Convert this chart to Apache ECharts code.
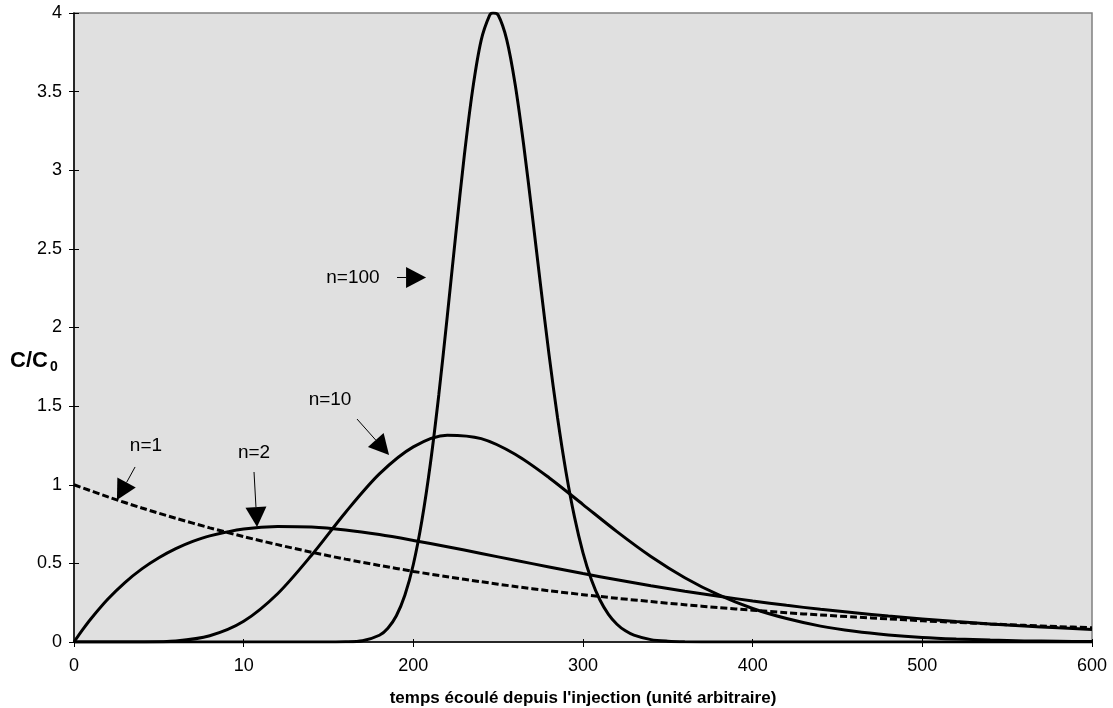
<!DOCTYPE html>
<html>
<head>
<meta charset="utf-8">
<script src="https://cdn.jsdelivr.net/npm/echarts@6/dist/echarts.min.js"></script>
<style>
html,body{margin:0;padding:0;background:#fff;}
#c{width:1113px;height:708px;}
</style>
</head>
<body>
<div id="c"></div>
<script>
// ---- data ----
const xTickLabels = ['0', '10', '200', '300', '400', '500', '600'];
const yTickLabels = ['0', '0.5', '1', '1.5', '2', '2.5', '3', '3.5', '4'];

const tN1 = [0,20,40,60,80,100,120,140,160,180,200,220,240,260,280,300,320,340,360,380,400,420,440,460,480,500,520,540,560,580,600];
const vN1 = [1,0.923,0.852,0.787,0.726,0.670,0.619,0.571,0.527,0.487,0.449,0.415,0.383,0.353,0.326,0.301,0.278,0.257,0.237,0.219,0.202,0.186,0.172,0.159,0.147,0.135,0.125,0.115,0.106,0.098,0.091];

const tN2 = [0,5,10,20,30,40,50,60,70,80,100,120,140,160,180,200,220,240,260,280,300,320,340,360,380,400,420,440,460,480,500,520,540,560,580,600];
const vN2 = [0,0.077,0.148,0.273,0.378,0.465,0.536,0.594,0.640,0.675,0.719,0.735,0.731,0.712,0.683,0.646,0.606,0.563,0.520,0.477,0.435,0.396,0.358,0.323,0.291,0.261,0.233,0.208,0.186,0.165,0.147,0.130,0.115,0.102,0.090,0.079];

const tN10 = [0,20,40,60,80,100,120,140,160,180,200,220,240,260,280,300,320,340,360,380,400,420,440,460,480,500,520,540,560,580,600];
const vN10 = [0,0,0.0004,0.0066,0.040,0.132,0.307,0.552,0.824,1.069,1.241,1.315,1.293,1.194,1.045,0.874,0.702,0.544,0.409,0.299,0.213,0.149,0.101,0.068,0.045,0.029,0.019,0.012,0.007,0.0045,0.0027];

const tN100 = [0,140,150,160,170,180,185,190,195,200,205,210,215,220,225,230,235,240,245,247,250,255,260,265,270,275,280,285,290,295,300,305,310,315,320,325,330,340,350,360,380,600];
const vN100 = [0,0,0.0001,0.0011,0.0082,0.043,0.088,0.167,0.297,0.493,0.769,1.130,1.571,2.071,2.591,3.090,3.516,3.827,3.986,4.0,3.987,3.832,3.547,3.164,2.724,2.268,1.826,1.426,1.080,0.794,0.567,0.394,0.267,0.176,0.113,0.071,0.044,0.015,0.005,0.0015,0,0];

// annotations (data coordinates)
const annLabels = ['n=1', 'n=2', 'n=10', 'n=100'];
const annTextPos = [[42.4, 1.246], [106.1, 1.202], [150.9, 1.539], [164.4, 2.318]];
const annArrowFrom = [[36.0, 1.113], [106.1, 1.081], [166.8, 1.418], [190.4, 2.318]];
const annArrowTo = [[25.3, 0.903], [107.9, 0.731], [185.7, 1.189], [207.5, 2.318]];

const xTitle = "temps écoulé depuis l'injection (unité arbitraire)";
// --------------------------------------

const FONT = 'Arial, "Liberation Sans", Helvetica, sans-serif';
const zip = (t, v) => t.map((x, i) => [x, v[i]]);

const chart = echarts.init(document.getElementById('c'), null, {renderer: 'canvas'});

function lineSeries(name, t, v, dashed) {
  return {
    name: name,
    type: 'line',
    data: zip(t, v),
    showSymbol: false,
    symbol: 'none',
    smooth: 0.3,
    clip: true,
    lineStyle: {color: '#000', width: 3, type: dashed ? [7, 3] : 'solid'},
    itemStyle: {color: '#000'},
    emphasis: {disabled: true},
    z: 3
  };
}

const option = {
  animation: false,
  backgroundColor: '#ffffff',
  textStyle: {fontFamily: FONT},
  grid: {
    left: 74, right: 21, top: 13, bottom: 66,
    containLabel: false,
    outerBoundsMode: 'none',
    show: true,
    backgroundColor: '#e0e0e0',
    borderColor: '#808080',
    borderWidth: 1.5
  },
  xAxis: [{
    type: 'value', min: 0, max: 600, interval: 100,
    position: 'bottom',
    name: xTitle, nameLocation: 'middle', nameGap: 48,
    nameTextStyle: {fontFamily: FONT, fontSize: 17, fontWeight: 'bold', color: '#000'},
    axisLine: {show: true, onZero: false, lineStyle: {color: '#000', width: 1.5}},
    axisTick: {show: true, inside: false, length: 5, lineStyle: {color: '#000', width: 1}},
    axisLabel: {
      show: true, margin: 15, color: '#000', fontFamily: FONT, fontSize: 18,
      formatter: function (v) { return xTickLabels[Math.round(v / 100)]; }
    },
    splitLine: {show: false}
  }, {
    type: 'value', min: 0, max: 600, interval: 100,
    position: 'bottom', offset: 0,
    axisLine: {show: false},
    axisTick: {show: true, inside: true, length: 3, lineStyle: {color: '#000', width: 1}},
    axisLabel: {show: false},
    splitLine: {show: false}
  }],
  yAxis: [{
    type: 'value', min: 0, max: 4, interval: 0.5,
    position: 'left',
    axisLine: {show: true, onZero: false, lineStyle: {color: '#000', width: 1.5}},
    axisTick: {show: true, inside: false, length: 5, lineStyle: {color: '#000', width: 1}},
    axisLabel: {
      show: true, margin: 12, color: '#000', fontFamily: FONT, fontSize: 18,
      formatter: function (v) { return yTickLabels[Math.round(v / 0.5)]; }
    },
    splitLine: {show: false}
  }, {
    type: 'value', min: 0, max: 4, interval: 0.5,
    position: 'left', offset: 0,
    axisLine: {show: false},
    axisTick: {show: true, inside: true, length: 5, lineStyle: {color: '#000', width: 1}},
    axisLabel: {show: false},
    splitLine: {show: false}
  }],
  series: [
    lineSeries('n=1', tN1, vN1, true),
    lineSeries('n=2', tN2, vN2, false),
    lineSeries('n=10', tN10, vN10, false),
    lineSeries('n=100', tN100, vN100, false)
  ]
};

chart.setOption(option);

// build annotations (labels + arrows) from data coordinates
const graphics = [];
const HEAD_LEN = 20, HEAD_HALF = 10.5;
for (let i = 0; i < annLabels.length; i++) {
  const tp = chart.convertToPixel({xAxisIndex: 0, yAxisIndex: 0}, annTextPos[i]);
  const a = chart.convertToPixel({xAxisIndex: 0, yAxisIndex: 0}, annArrowFrom[i]);
  const b = chart.convertToPixel({xAxisIndex: 0, yAxisIndex: 0}, annArrowTo[i]);
  const dx = b[0] - a[0], dy = b[1] - a[1];
  const L = Math.sqrt(dx * dx + dy * dy);
  const ux = dx / L, uy = dy / L;
  const bx = b[0] - ux * HEAD_LEN, by = b[1] - uy * HEAD_LEN;
  graphics.push({
    type: 'text', x: tp[0], y: tp[1], z: 10,
    style: {text: annLabels[i], fontFamily: FONT, fontSize: 19, fill: '#000', align: 'center', verticalAlign: 'middle'}
  });
  graphics.push({
    type: 'line', z: 10,
    shape: {x1: a[0], y1: a[1], x2: bx, y2: by},
    style: {stroke: '#000', lineWidth: 1}
  });
  graphics.push({
    type: 'polygon', z: 10,
    shape: {points: [[b[0], b[1]], [bx - uy * HEAD_HALF, by + ux * HEAD_HALF], [bx + uy * HEAD_HALF, by - ux * HEAD_HALF]]},
    style: {fill: '#000'}
  });
}
// y-axis title C/C0
graphics.push({
  type: 'text', x: 10, y: 361, z: 10,
  style: {text: 'C/C', fontFamily: FONT, fontSize: 22, fontWeight: 'bold', fill: '#000', align: 'left', verticalAlign: 'middle'}
});
graphics.push({
  type: 'text', x: 50, y: 367, z: 10,
  style: {text: '0', fontFamily: FONT, fontSize: 14, fontWeight: 'bold', fill: '#000', align: 'left', verticalAlign: 'middle'}
});
chart.setOption({graphic: graphics});
</script>
</body>
</html>
